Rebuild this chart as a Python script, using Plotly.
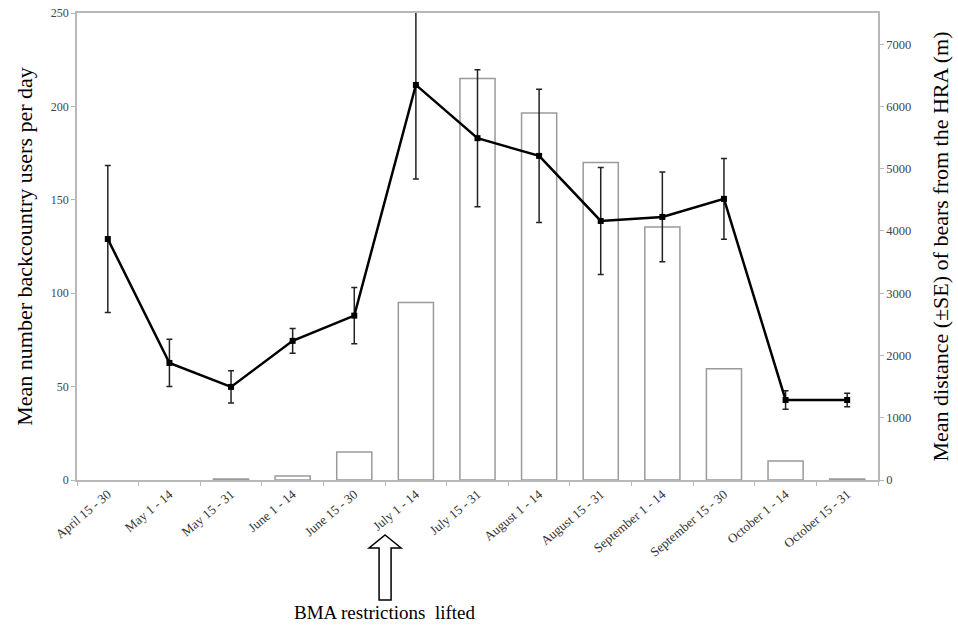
import plotly.graph_objects as go

categories = ["April 15 - 30", "May 1 - 14", "May 15 - 31", "June 1 - 14", "June 15 - 30",
              "July 1 - 14", "July 15 - 31", "August 1 - 14", "August 15 - 31",
              "September 1 - 14", "September 15 - 30", "October 1 - 14", "October 15 - 31"]
users = [0, 0, 0.6, 2.2, 15, 95, 215, 196.5, 170, 135.5, 59.5, 10.2, 0.6]
distance = [3870, 1880, 1495, 2235, 2640, 6345, 5490, 5205, 4160, 4225, 4515, 1285, 1285]
distance_se = [1180, 380, 260, 200, 450, 1510, 1100, 1070, 860, 720, 650, 150, 110]

serif = "Liberation Serif, Times New Roman, serif"
axis_grey = "#b8b8b8"
tick_col = "#444444"

bar_line_w = [0 if v == 0 else 1.5 for v in users]

fig = go.Figure()
fig.add_trace(go.Bar(
    x=categories, y=users, yaxis="y",
    marker=dict(color="white", line=dict(color="#9a9a9a", width=bar_line_w)),
    width=0.57, showlegend=False))
fig.add_trace(go.Scatter(
    x=categories, y=distance, yaxis="y2", mode="lines+markers",
    line=dict(color="black", width=2.5),
    marker=dict(symbol="square", size=6, color="black"),
    error_y=dict(type="data", array=distance_se, visible=True, color="#222222",
                 thickness=1.5, width=3),
    showlegend=False))

fig.update_layout(
    width=958, height=631,
    margin=dict(l=77, r=80, t=13, b=151),
    plot_bgcolor="white", paper_bgcolor="white",
    font=dict(family=serif, color=tick_col, size=12),
    xaxis=dict(type="category", tickangle=-40, tickson="boundaries",
               ticks="outside", ticklen=4, tickcolor=axis_grey,
               showline=True, linecolor=axis_grey, linewidth=1.5, mirror=True,
               showgrid=False, tickfont=dict(size=13, color="#333333"),
               range=[-0.5, 12.5], automargin=False),
    yaxis=dict(range=[0, 250], tickvals=[0, 50, 100, 150, 200, 250],
               ticks="outside", ticklen=4, tickcolor=axis_grey,
               showline=True, linecolor=axis_grey, linewidth=1.5,
               showgrid=False, zeroline=False, ticklabeloverflow="allow",
               automargin=False,
               tickfont=dict(size=12, color=tick_col),
               title=dict(text="Mean number backcountry users per day",
                          font=dict(size=22, color="black", family=serif), standoff=12)),
    yaxis2=dict(range=[0, 7500], tickvals=[0, 1000, 2000, 3000, 4000, 5000, 6000, 7000],
                overlaying="y", side="right", automargin=False,
                ticks="outside", ticklen=4, tickcolor=axis_grey,
                showline=True, linecolor=axis_grey, linewidth=1.5,
                showgrid=False, zeroline=False,
                tickfont=dict(size=12.5, color=tick_col),
                title=dict(text="Mean distance (\u00b1SE) of bears from the HRA (m)",
                           font=dict(size=22, color="black", family=serif), standoff=22)),
    bargap=0.43,
)

# hollow block arrow marking when restrictions were lifted (between June 15-30 and July 1-14)
fig.add_shape(
    type="path", xref="x", yref="paper",
    xsizemode="pixel", ysizemode="pixel", xanchor=4.5, yanchor=0,
    path="M 0,-55 L 16,-68 L 6,-68 L 6,-120 L -6,-120 L -6,-68 L -16,-68 Z",
    line=dict(color="black", width=1.5), fillcolor="white")
fig.add_annotation(
    x=4.5, y=0, xref="x", yref="paper", yshift=-132, yanchor="middle",
    text="BMA restrictions  lifted", showarrow=False,
    font=dict(size=19, color="black", family=serif))

fig.write_html("out.html", config={"displayModeBar": False},
               post_script="document.body.style.margin='0';")
